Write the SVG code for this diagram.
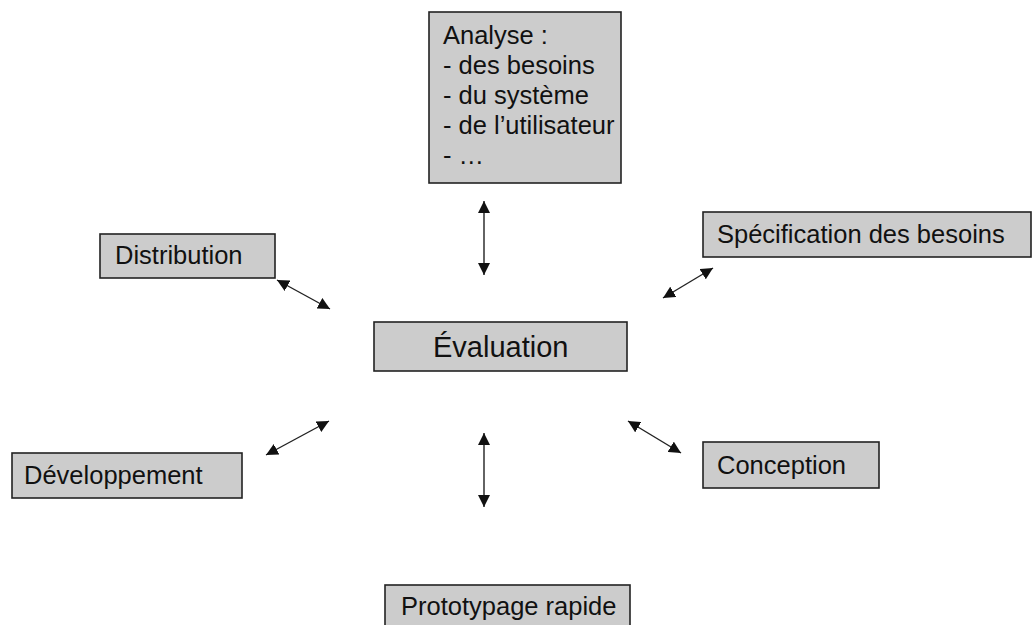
<svg xmlns="http://www.w3.org/2000/svg" width="1034" height="625" viewBox="0 0 1034 625">
<style>
.box{fill:#cccccc;stroke:#222;stroke-width:1.6}
.t{font-family:"Liberation Sans",Arial,sans-serif;font-size:25.5px;fill:#111}
.big{font-size:29px}
.c{stroke:#222;stroke-width:1.4;fill:none;marker-start:url(#ah);marker-end:url(#ah)}
</style>
<defs>
<marker id="ah" viewBox="0 0 10 10" refX="10" refY="5" markerWidth="12" markerHeight="12" markerUnits="userSpaceOnUse" orient="auto-start-reverse">
<path d="M0,0 L10,5 L0,10 z" fill="#111"/>
</marker>
</defs>
<rect width="1034" height="625" fill="#fff"/>
<g id="analyse">
<rect class="box" x="429" y="12" width="192" height="171"/>
<text class="t" x="443" y="44">Analyse :</text>
<text class="t" x="443" y="74">- des besoins</text>
<text class="t" x="443" y="104">- du système</text>
<text class="t" x="443" y="134">- de l’utilisateur</text>
<text class="t" x="443" y="164">- …</text>
</g>
<g id="distribution">
<rect class="box" x="100" y="234" width="175" height="44"/>
<text class="t" x="115" y="264">Distribution</text>
</g>
<g id="specification">
<rect class="box" x="703" y="212" width="328" height="45"/>
<text class="t" x="717" y="243">Spécification des besoins</text>
</g>
<g id="evaluation">
<rect class="box" x="374" y="322" width="253" height="49"/>
<text class="t big" x="433" y="357">Évaluation</text>
</g>
<g id="developpement">
<rect class="box" x="12" y="453" width="230" height="45"/>
<text class="t" x="24" y="484">Développement</text>
</g>
<g id="conception">
<rect class="box" x="703" y="442" width="176" height="46"/>
<text class="t" x="717" y="474">Conception</text>
</g>
<g id="prototypage">
<rect class="box" x="385" y="585" width="245" height="45"/>
<text class="t" x="401" y="615">Prototypage rapide</text>
</g>
<g id="connectors">
<line class="c" x1="484" y1="201" x2="484" y2="275"/>
<line class="c" x1="277" y1="280" x2="330" y2="309"/>
<line class="c" x1="663" y1="298" x2="713" y2="268"/>
<line class="c" x1="266" y1="455" x2="329" y2="421"/>
<line class="c" x1="628" y1="421" x2="681" y2="453"/>
<line class="c" x1="484" y1="433" x2="484" y2="507"/>
</g>
</svg>
